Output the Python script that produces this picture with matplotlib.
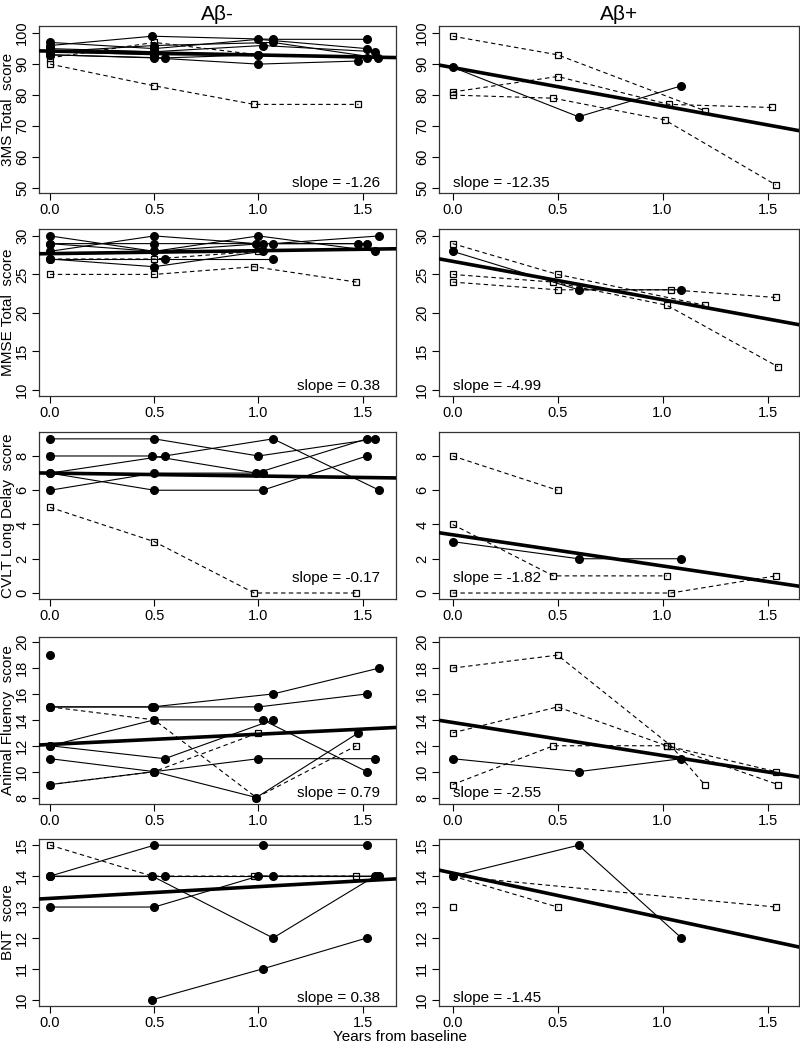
import matplotlib
matplotlib.use("Agg")
import matplotlib.pyplot as plt

plt.rcParams['font.family'] = ['Liberation Sans', 'DejaVu Sans']

# --- panel definitions ---
YLABELS = ['3MS Total  score', 'MMSE Total  score', 'CVLT Long Delay  score',
           'Animal Fluency  score', 'BNT  score']
YLIMS = [(48.4, 102.3), (9.2, 30.9), (-0.35, 9.4), (7.5, 20.4), (9.8, 15.2)]
YTICKS = [[50, 60, 70, 80, 90, 100], [10, 15, 20, 25, 30], [0, 2, 4, 6, 8],
          [8, 10, 12, 14, 16, 18, 20], [10, 11, 12, 13, 14, 15]]
XTICKS = [0.0, 0.5, 1.0, 1.5]

# regression fits (intercept, slope) for A-beta negative / positive
fit_neg = [(94.2, -1.26), (27.7, 0.38), (7.0, -0.17), (12.1, 0.79), (13.28, 0.38)]
fit_pos = [(88.9, -12.35), (26.7, -4.99), (3.4, -1.82), (13.8, -2.55), (14.1, -1.45)]

# subjects: (years, scores, dashed?)
neg_3ms = [
    ([0, 0.49, 1.07, 1.52], [96, 99, 98, 98], False),
    ([0, 0.5, 1.0, 1.52], [97, 95, 98, 95], False),
    ([0, 0.5, 1.02, 1.56], [95, 94, 96, 94], False),
    ([0, 0.5, 1.07, 1.575], [94, 96, 97, 92], False),
    ([0, 0.5, 1.0, 1.48], [93, 92, 90, 91], False),
    ([0, 0.55, 1.0], [93, 92, 93], False),
    ([0, 0.5, 1.0, 1.52], [94, 93, 93, 92], False),
    ([0, 0.5, 1.0], [92, 97, 93], True),
    ([0, 0.5, 0.98, 1.48], [90, 83, 77, 77], True),
]
neg_mmse = [
    ([0, 0.5, 1.0, 1.56], [30, 28, 30, 28], False),
    ([0, 0.5, 0.99, 1.48], [28, 30, 29, 29], False),
    ([0, 0.5, 1.07, 1.58], [29, 29, 29, 30], False),
    ([0, 0.5, 1.02, 1.52], [29, 28, 29, 29], False),
    ([0, 0.55, 1.07], [27, 27, 27], False),
    ([0, 0.5, 1.02], [27, 26, 28], False),
    ([0, 0.5, 1.0], [27, 27, 28], True),
    ([0, 0.5, 0.98, 1.47], [25, 25, 26, 24], True),
]
neg_cvlt = [
    ([0, 0.5, 1.0, 1.56], [9, 9, 8, 9], False),
    ([0, 0.49, 0.99, 1.52], [8, 8, 7, 9], False),
    ([0, 0.55, 1.07, 1.58], [7, 8, 9, 6], False),
    ([0, 0.5, 1.02, 1.52], [7, 6, 6, 8], False),
    ([0, 0.5, 1.02], [6, 7, 7], False),
    ([0], [8], True),
    ([0, 0.5, 0.98, 1.47], [5, 3, 0, 0], True),
]
neg_fluency = [
    ([0, 0.49, 1.07, 1.58], [15, 15, 16, 18], False),
    ([0, 0.5, 1.0, 1.52], [15, 15, 15, 16], False),
    ([0, 0.5, 1.02, 1.52], [12, 14, 14, 10], False),
    ([0, 0.55, 1.07], [12, 11, 14], False),
    ([0, 0.5, 0.99, 1.48], [11, 10, 8, 13], False),
    ([0, 0.5, 1.0, 1.56], [9, 10, 11, 11], False),
    ([0], [19], False),
    ([0, 0.5, 0.99, 1.47], [15, 14, 8, 12], True),
    ([0, 0.5, 1.0], [9, 10, 13], True),
]
neg_bnt = [
    ([0, 0.5, 1.02, 1.52], [14, 15, 15, 15], False),
    ([0, 0.49, 1.07, 1.56], [14, 14, 12, 14], False),
    ([0, 0.55, 1.07, 1.58], [14, 14, 14, 14], False),
    ([0, 0.5, 1.0, 1.575], [13, 13, 14, 14], False),
    ([0.49, 1.02, 1.52], [10, 11, 12], False),
    ([0, 0.49, 0.98, 1.47], [15, 14, 14, 14], True),
]

pos_3ms = [
    ([0, 0.6, 1.09], [89, 73, 83], False),
    ([0, 0.5, 1.2], [99, 93, 75], True),
    ([0, 0.5, 1.03, 1.52], [81, 86, 77, 76], True),
    ([0, 0.48, 1.01, 1.54], [80, 79, 72, 51], True),
]
pos_mmse = [
    ([0, 0.6, 1.09], [28, 23, 23], False),
    ([0, 0.5, 1.2], [29, 25, 21], True),
    ([0, 0.48, 1.02, 1.55], [25, 24, 21, 13], True),
    ([0, 0.5, 1.04, 1.54], [24, 23, 23, 22], True),
]
pos_cvlt = [
    ([0, 0.6, 1.09], [3, 2, 2], False),
    ([0, 0.5], [8, 6], True),
    ([0, 0.48, 1.02], [4, 1, 1], True),
    ([0, 1.04, 1.54], [0, 0, 1], True),
]
pos_fluency = [
    ([0, 0.6, 1.09], [11, 10, 11], False),
    ([0, 0.5, 1.04, 1.2], [18, 19, 12, 9], True),
    ([0, 0.5, 1.02, 1.55], [13, 15, 12, 9], True),
    ([0, 0.48, 1.02, 1.54], [9, 12, 12, 10], True),
]
pos_bnt = [
    ([0, 0.6, 1.09], [14, 15, 12], False),
    ([0, 0.5], [14, 13], True),
    ([0, 1.54], [14, 13], True),
    ([0], [13], True),
]

NEG = [neg_3ms, neg_mmse, neg_cvlt, neg_fluency, neg_bnt]
POS = [pos_3ms, pos_mmse, pos_cvlt, pos_fluency, pos_bnt]

W, H = 800, 1043
ROW_TOP = [26, 229, 432, 637, 839]
PANEL_H = 167
COL_X = [(39, 396), (439, 799)]
XLIMS = [(-0.053, 1.66), (-0.065, 1.65)]
SLOPE_Y = [0.06, 0.062, 0.125, 0.068, 0.05]


def draw_panel(ax, subjects, fit, xlim, ylim, yticks):
    for xs, ys, dashed in subjects:
        if dashed:
            ax.plot(xs, ys, color='black', lw=0.8, ls=(0, (4, 3)),
                    marker='s', ms=5, mfc='none', mec='black', mew=0.9, zorder=3)
        else:
            ax.plot(xs, ys, color='black', lw=0.8, ls='-',
                    marker='o', ms=5.5, mfc='black', mec='black', zorder=2)
    b, m = fit
    ax.plot(list(xlim), [b + m * xlim[0], b + m * xlim[1]], color='black', lw=2.6, zorder=4)
    ax.set_xlim(xlim)
    ax.set_ylim(ylim)
    ax.set_xticks(XTICKS)
    ax.set_xticklabels(['%.1f' % t for t in XTICKS])
    ax.set_yticks(yticks)
    ax.set_yticklabels([str(t) for t in yticks], rotation=90, va='center')
    ax.tick_params(direction='out', length=5, width=0.8, labelsize=10.5, pad=2)
    for s in ax.spines.values():
        s.set_linewidth(0.9)
        s.set_color('#333333')


fig = plt.figure(figsize=(W / 100, H / 100), dpi=100)

for r in range(5):
    for c, (data, fits) in enumerate([(NEG, fit_neg), (POS, fit_pos)]):
        x0, x1 = COL_X[c]
        top = ROW_TOP[r]
        ax = fig.add_axes([x0 / W, 1 - (top + PANEL_H) / H, (x1 - x0) / W, PANEL_H / H])
        draw_panel(ax, data[r], fits[r], XLIMS[c], YLIMS[r], YTICKS[r])
        slope_txt = 'slope = %.2f' % fits[r][1]
        if c == 0:
            ax.text(0.955, SLOPE_Y[r], slope_txt, transform=ax.transAxes,
                    ha='right', va='center', fontsize=11, zorder=6)
            ax.set_ylabel(YLABELS[r], fontsize=11)
            ax.yaxis.set_label_coords(-0.068, 0.5)
        else:
            ax.text(0.04, SLOPE_Y[r], slope_txt, transform=ax.transAxes,
                    ha='left', va='center', fontsize=11, zorder=6)
        if r == 0:
            ax.set_title('Aβ-' if c == 0 else 'Aβ+', fontsize=15, pad=4)

fig.text(0.5, 1 - 1037 / H, 'Years from baseline', ha='center', va='center', fontsize=11)

fig.savefig('out.png', dpi=100)
